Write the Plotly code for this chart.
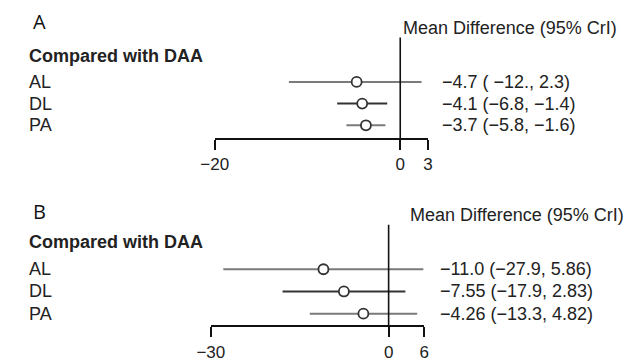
import plotly.graph_objects as go

W, H = 627, 362

# ---- data ----
rows = ["AL", "DL", "PA"]
a_est = [-4.7, -4.1, -3.7]
a_lo = [-12.0, -6.8, -5.8]
a_hi = [2.3, -1.4, -1.6]
a_txt = ["\u22124.7 ( \u221212., 2.3)", "\u22124.1 (\u22126.8, \u22121.4)", "\u22123.7 (\u22125.8, \u22121.6)"]
a_ticks = [-20, 0, 3]

b_est = [-11.0, -7.55, -4.26]
b_lo = [-27.9, -17.9, -13.3]
b_hi = [5.86, 2.83, 4.82]
b_txt = ["\u221211.0 (\u221227.9, 5.86)", "\u22127.55 (\u221217.9, 2.83)", "\u22124.26 (\u221213.3, 4.82)"]
b_ticks = [-30, 0, 6]

header = "Mean Difference (95% CrI)"
group_title = "Compared with DAA"

# ---- styling ----
FONT = "Liberation Sans, Arial, sans-serif"
TXT = "#222222"
ci_colors = ["#7a7a7a", "#333333", "#7a7a7a"]

fig = go.Figure()

def px_x(p):
    return p / W

def px_y(p):
    return 1 - p / H

panels = [
    dict(est=a_est, lo=a_lo, hi=a_hi, txt=a_txt, ticks=a_ticks, xa="x", ya="y",
         letter="A", letter_y=22, title_y=57, head_x=399, head_y=28, txt_x=439),
    dict(est=b_est, lo=b_lo, hi=b_hi, txt=b_txt, ticks=b_ticks, xa="x2", ya="y2",
         letter="B", letter_y=214, title_y=245, head_x=406, head_y=218, txt_x=437),
]

annotations = []
shapes = []
for p in panels:
    for i, r in enumerate(rows):
        fig.add_trace(go.Scatter(
            x=[p["lo"][i], p["hi"][i]], y=[r, r], mode="lines",
            line=dict(color=ci_colors[i], width=2), xaxis=p["xa"], yaxis=p["ya"],
            showlegend=False, hoverinfo="skip"))
    fig.add_trace(go.Scatter(
        x=p["est"], y=rows, mode="markers",
        marker=dict(symbol="circle", size=10, color="white",
                    line=dict(color="#333333", width=1.8)),
        xaxis=p["xa"], yaxis=p["ya"], showlegend=False))
    # zero (no-effect) line
    shapes.append(dict(type="line", xref=p["xa"], yref=p["ya"] + " domain",
                       x0=0, x1=0, y0=0, y1=1, line=dict(color="#111111", width=1.6)))
    for i, r in enumerate(rows):
        annotations.append(dict(text=r, xref="paper", yref=p["ya"], x=px_x(13), y=r,
                                xanchor="left", yanchor="middle", showarrow=False,
                                font=dict(family=FONT, size=18, color=TXT)))
        annotations.append(dict(text=p["txt"][i], xref="paper", yref=p["ya"],
                                x=px_x(p["txt_x"]), y=r, xanchor="left", yanchor="middle",
                                showarrow=False, font=dict(family=FONT, size=18, color=TXT)))
    annotations.append(dict(text=p["letter"], xref="paper", yref="paper", x=px_x(18),
                            y=px_y(p["letter_y"]), xanchor="left", yanchor="middle",
                            showarrow=False, font=dict(family="Open Sans, sans-serif", size=20, color="#111111")))
    annotations.append(dict(text="<b>" + group_title + "</b>", xref="paper", yref="paper",
                            x=px_x(13), y=px_y(p["title_y"]), xanchor="left", yanchor="middle",
                            showarrow=False, font=dict(family=FONT, size=18, color=TXT)))
    annotations.append(dict(text=header, xref="paper", yref="paper", x=px_x(p["head_x"]),
                            y=px_y(p["head_y"]), xanchor="left", yanchor="middle",
                            showarrow=False, font=dict(family=FONT, size=18, color=TXT)))

axis_common = dict(showgrid=False, zeroline=False, showline=True, linecolor="#111111",
                   linewidth=1.6, ticks="outside", ticklen=10, tickwidth=1.6,
                   tickcolor="#111111", tickfont=dict(family=FONT, size=17, color=TXT),
                   fixedrange=True)
yaxis_common = dict(type="category", categoryarray=rows, showgrid=False, zeroline=False,
                    showline=False, showticklabels=False, ticks="", fixedrange=True)

fig.update_layout(
    width=W, height=H, margin=dict(l=0, r=0, t=0, b=0),
    paper_bgcolor="white", plot_bgcolor="white",
    xaxis=dict(domain=[px_x(207), px_x(427)], range=[a_ticks[0], a_ticks[-1]],
               tickvals=a_ticks, ticktext=["\u221220", "0", "3"], anchor="y", **axis_common),
    yaxis=dict(domain=[px_y(140), px_y(38)], range=[2.59, -2.05], anchor="x", **yaxis_common),
    xaxis2=dict(domain=[px_x(203), px_x(423)], range=[b_ticks[0], b_ticks[-1]],
                tickvals=b_ticks, ticktext=["\u221230", "0", "6"], anchor="y2", **axis_common),
    yaxis2=dict(domain=[px_y(330), px_y(228)], range=[2.53, -2.0], anchor="x2", **yaxis_common),
    annotations=annotations, shapes=shapes, showlegend=False,
)

fig.write_html("out.html", config={"displayModeBar": False},
               post_script="document.body.style.margin='0';document.body.style.overflow='hidden';")
